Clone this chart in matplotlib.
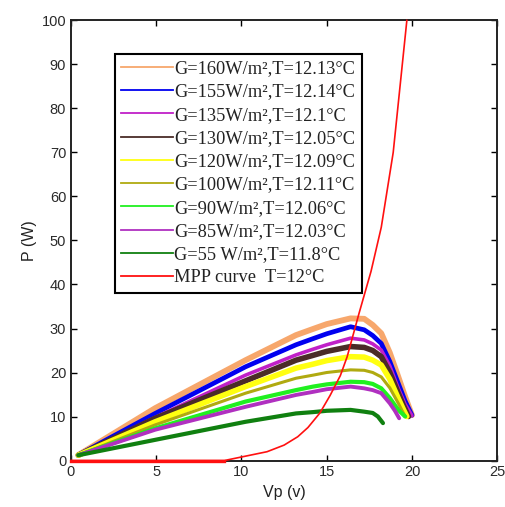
import matplotlib
matplotlib.use("Agg")
import matplotlib.pyplot as plt
from matplotlib.lines import Line2D

# ---- data ----
V_std = [0.43, 4.94, 10.24, 13.2, 14.2, 15.0, 16.4, 17.2, 17.7, 18.2, 18.7, 19.2, 19.6, 20.0]

V_160 = V_std
P_160 = [1.25, 11.9, 22.8, 28.5, 29.9, 31.0, 32.3, 32.2, 30.8, 28.9, 24.5, 19.0, 14.5, 10.3]
V_155 = V_std
P_155 = [1.25, 10.7, 21.3, 26.3, 27.7, 28.8, 30.4, 29.7, 28.4, 26.6, 22.5, 17.5, 13.5, 10.3]
V_135 = V_std
P_135 = [1.2, 9.8, 19.4, 24.0, 25.3, 26.3, 27.8, 27.4, 26.5, 25.1, 21.5, 16.4, 12.8, 10.2]
V_130 = [0.43, 4.94, 10.24, 13.2, 14.2, 15.0, 16.4, 17.2, 17.7, 18.2, 18.7, 19.2, 19.5, 19.8]
P_130 = [1.2, 9.6, 18.1, 22.8, 23.9, 24.8, 25.9, 25.7, 25.0, 23.6, 20.0, 15.3, 12.5, 10.0]
V_120 = [0.43, 4.94, 10.24, 13.2, 14.2, 15.0, 16.4, 17.2, 17.7, 18.2, 18.7, 19.2, 19.45, 19.7]
P_120 = [1.2, 8.8, 16.8, 21.0, 21.9, 22.7, 23.6, 23.5, 22.8, 21.7, 18.5, 14.1, 12.0, 10.0]
V_100 = [0.43, 4.94, 10.24, 13.2, 14.2, 15.0, 16.4, 17.2, 17.7, 18.2, 18.7, 19.2, 19.4, 19.6]
P_100 = [1.2, 8.1, 15.3, 18.7, 19.4, 20.0, 20.6, 20.5, 20.0, 19.0, 16.5, 13.0, 11.5, 10.0]
V_90 = [0.43, 4.94, 10.24, 13.2, 14.2, 15.0, 16.4, 17.2, 17.7, 18.2, 18.7, 19.2, 19.6]
P_90 = [1.2, 7.3, 13.4, 16.0, 16.8, 17.3, 17.9, 17.8, 17.4, 16.4, 14.2, 11.5, 10.0]
V_85 = [0.43, 4.94, 10.24, 13.2, 14.2, 15.0, 16.4, 17.2, 17.7, 18.2, 18.7, 19.0, 19.25]
P_85 = [1.2, 7.0, 12.2, 14.9, 15.6, 16.2, 16.8, 16.4, 16.0, 15.3, 13.0, 11.3, 9.6]
V_55 = [0.43, 4.94, 10.24, 13.2, 14.2, 15.0, 16.4, 17.2, 17.7, 18.0, 18.3]
P_55 = [1.2, 4.7, 8.8, 10.7, 11.0, 11.3, 11.5, 11.1, 10.8, 10.0, 8.5]

V_mpp = [0, 9.0, 10.0, 11.5, 12.5, 13.3, 13.9, 14.6, 15.2, 15.8, 16.2, 16.9, 17.6, 18.2, 18.9, 19.7]
P_mpp = [0, 0, 0.8, 2.0, 3.5, 5.4, 7.5, 10.8, 14.8, 19.3, 23.6, 33.5, 43.0, 53.0, 70.0, 100.0]

labels = [
    "G=160W/m\u00b2,T=12.13\u00b0C",
    "G=155W/m\u00b2,T=12.14\u00b0C",
    "G=135W/m\u00b2,T=12.1\u00b0C",
    "G=130W/m\u00b2,T=12.05\u00b0C",
    "G=120W/m\u00b2,T=12.09\u00b0C",
    "G=100W/m\u00b2,T=12.11\u00b0C",
    "G=90W/m\u00b2,T=12.06\u00b0C",
    "G=85W/m\u00b2,T=12.03\u00b0C",
    "G=55 W/m\u00b2,T=11.8\u00b0C",
    "MPP curve  T=12\u00b0C",
]

x_ticks = [0, 5, 10, 15, 20, 25]
y_ticks = [0, 10, 20, 30, 40, 50, 60, 70, 80, 90, 100]

# ---- styling ----
colors = ["#F7A76C", "#0000F0", "#C020C8", "#4A2C28", "#FFFF10",
          "#B0AA10", "#20F020", "#B030C0", "#108010", "#FF1010"]
widths = [4.2, 3.4, 2.6, 4.0, 4.0, 2.2, 3.0, 2.8, 3.0]

series = [(V_160, P_160), (V_155, P_155), (V_135, P_135), (V_130, P_130),
          (V_120, P_120), (V_100, P_100), (V_90, P_90), (V_85, P_85),
          (V_55, P_55)]

fig = plt.figure(figsize=(5.06, 5.07), dpi=100)
ax = fig.add_axes([0.1403, 0.0917, 0.9826 - 0.1403, 0.9596 - 0.0917])

for i, (v, p) in enumerate(series):
    ax.plot(v, p, color=colors[i], lw=widths[i], solid_capstyle="round",
            solid_joinstyle="round", zorder=2 + i * 0.01)
ax.plot(V_mpp, P_mpp, color=colors[9], lw=1.2, zorder=5, clip_on=False)
ax.plot(V_mpp[:2], P_mpp[:2], color=colors[9], lw=2.4, zorder=6, clip_on=False)

ax.set_xlim(0, 25)
ax.set_ylim(0, 100)
ax.set_xticks(x_ticks)
ax.set_yticks(y_ticks)
ax.tick_params(direction="in", top=True, right=True, length=4, width=1,
               labelsize=10.5, labelcolor="#2a2a2a")
for lab in ax.get_xticklabels() + ax.get_yticklabels():
    lab.set_family("Liberation Sans")
for s in ax.spines.values():
    s.set_linewidth(1.4)
    s.set_color("#222222")

ax.set_xlabel("Vp (v)", family="Liberation Sans", fontsize=11.5, color="#222222", labelpad=4)
ax.set_ylabel("P (W)", family="Liberation Sans", fontsize=11.5, color="#222222", labelpad=3)

handles = [Line2D([0], [0], color=c, lw=1.3) for c in colors]
leg = ax.legend(handles, labels, loc="upper left", bbox_to_anchor=(0.103, 0.924),
                borderaxespad=0, prop={"family": "Liberation Serif", "size": 13.2},
                handlelength=2.8, handletextpad=0.1, labelspacing=0.34,
                borderpad=0.35, fancybox=False, framealpha=1,
                edgecolor="black")
leg.get_frame().set_linewidth(1.5)
for t in leg.get_texts():
    t.set_color("#222222")

fig.savefig("out.png", dpi=100)
